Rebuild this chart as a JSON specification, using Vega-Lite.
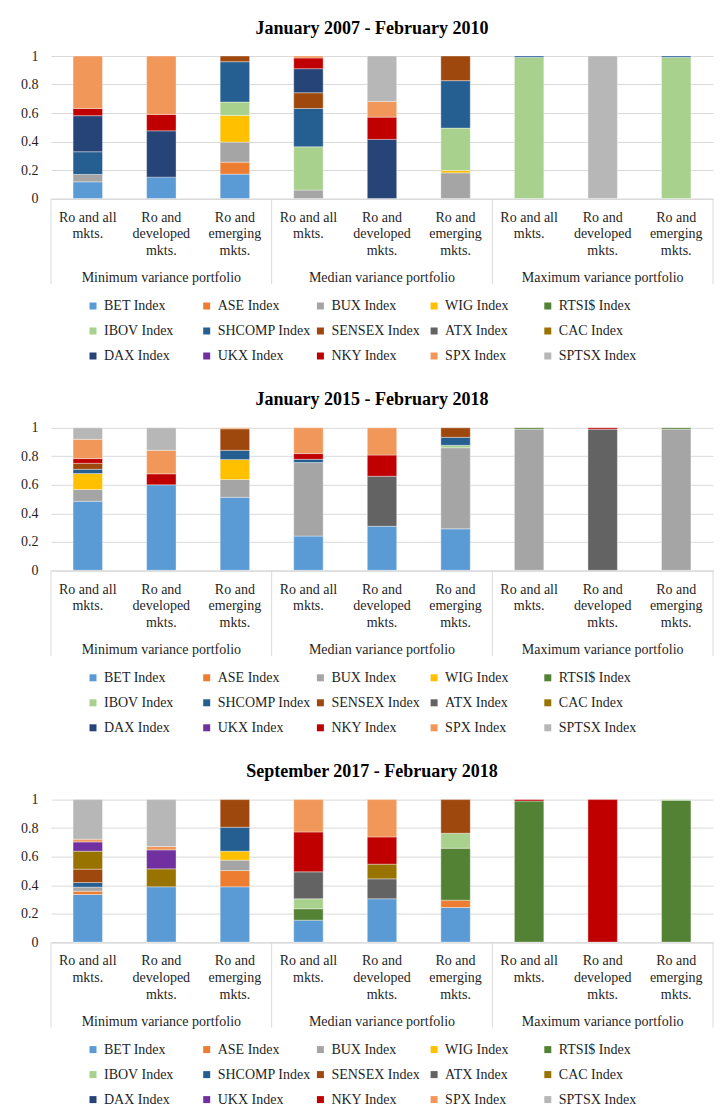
{
  "$schema": "https://vega.github.io/schema/vega-lite/v6.json",
  "background": "white",
  "padding": {"top": 19, "left": 20, "right": 5, "bottom": 5},
  "bounds": "flush",
  "spacing": 228.8,
  "config": {
    "view": {"stroke": null},
    "font": "Liberation Serif",
    "title": {"font": "Liberation Serif", "fontSize": 18, "fontWeight": "bold", "color": "#000000", "anchor": "middle", "frame": "group", "dx": -10, "offset": 11.5},
    "axis": {"labelFont": "Liberation Serif", "labelFontSize": 14, "labelColor": "#1f1f1f"},
    "axisY": {"grid": true, "gridColor": "#d9d9d9", "gridWidth": 1, "domain": false, "ticks": false, "labelOverlap": false, "labelFlush": false, "labelPadding": 13},
    "legend": {"labelFont": "Liberation Serif", "labelFontSize": 14, "labelColor": "#1f1f1f"}
  },
  "datasets": {
    "legendOrder": [
      {"index": "BET Index", "rank": 1}, {"index": "ASE Index", "rank": 2}, {"index": "BUX Index", "rank": 3},
      {"index": "WIG Index", "rank": 4}, {"index": "RTSI$ Index", "rank": 5}, {"index": "IBOV Index", "rank": 6},
      {"index": "SHCOMP Index", "rank": 7}, {"index": "SENSEX Index", "rank": 8}, {"index": "ATX Index", "rank": 9},
      {"index": "CAC Index", "rank": 10}, {"index": "DAX Index", "rank": 11}, {"index": "UKX Index", "rank": 12},
      {"index": "NKY Index", "rank": 13}, {"index": "SPX Index", "rank": 14}, {"index": "SPTSX Index", "rank": 15}
    ],
    "p1": [
      {"bar": "Minimum | Ro and all mkts.", "index": "BET Index", "weight": 0.117},
      {"bar": "Minimum | Ro and all mkts.", "index": "BUX Index", "weight": 0.052},
      {"bar": "Minimum | Ro and all mkts.", "index": "SHCOMP Index", "weight": 0.159},
      {"bar": "Minimum | Ro and all mkts.", "index": "DAX Index", "weight": 0.253},
      {"bar": "Minimum | Ro and all mkts.", "index": "NKY Index", "weight": 0.051},
      {"bar": "Minimum | Ro and all mkts.", "index": "SPX Index", "weight": 0.368},
      {"bar": "Minimum | Ro and developed mkts.", "index": "BET Index", "weight": 0.150},
      {"bar": "Minimum | Ro and developed mkts.", "index": "DAX Index", "weight": 0.325},
      {"bar": "Minimum | Ro and developed mkts.", "index": "NKY Index", "weight": 0.115},
      {"bar": "Minimum | Ro and developed mkts.", "index": "SPX Index", "weight": 0.410},
      {"bar": "Minimum | Ro and emerging mkts.", "index": "BET Index", "weight": 0.171},
      {"bar": "Minimum | Ro and emerging mkts.", "index": "ASE Index", "weight": 0.084},
      {"bar": "Minimum | Ro and emerging mkts.", "index": "BUX Index", "weight": 0.141},
      {"bar": "Minimum | Ro and emerging mkts.", "index": "WIG Index", "weight": 0.187},
      {"bar": "Minimum | Ro and emerging mkts.", "index": "IBOV Index", "weight": 0.094},
      {"bar": "Minimum | Ro and emerging mkts.", "index": "SHCOMP Index", "weight": 0.283},
      {"bar": "Minimum | Ro and emerging mkts.", "index": "SENSEX Index", "weight": 0.040},
      {"bar": "Median | Ro and all mkts.", "index": "BUX Index", "weight": 0.059},
      {"bar": "Median | Ro and all mkts.", "index": "IBOV Index", "weight": 0.304},
      {"bar": "Median | Ro and all mkts.", "index": "SHCOMP Index", "weight": 0.269},
      {"bar": "Median | Ro and all mkts.", "index": "SENSEX Index", "weight": 0.110},
      {"bar": "Median | Ro and all mkts.", "index": "DAX Index", "weight": 0.169},
      {"bar": "Median | Ro and all mkts.", "index": "NKY Index", "weight": 0.075},
      {"bar": "Median | Ro and all mkts.", "index": "SPX Index", "weight": 0.014},
      {"bar": "Median | Ro and developed mkts.", "index": "DAX Index", "weight": 0.415},
      {"bar": "Median | Ro and developed mkts.", "index": "NKY Index", "weight": 0.156},
      {"bar": "Median | Ro and developed mkts.", "index": "SPX Index", "weight": 0.110},
      {"bar": "Median | Ro and developed mkts.", "index": "SPTSX Index", "weight": 0.319},
      {"bar": "Median | Ro and emerging mkts.", "index": "BUX Index", "weight": 0.180},
      {"bar": "Median | Ro and emerging mkts.", "index": "WIG Index", "weight": 0.017},
      {"bar": "Median | Ro and emerging mkts.", "index": "IBOV Index", "weight": 0.297},
      {"bar": "Median | Ro and emerging mkts.", "index": "SHCOMP Index", "weight": 0.333},
      {"bar": "Median | Ro and emerging mkts.", "index": "SENSEX Index", "weight": 0.173},
      {"bar": "Maximum | Ro and all mkts.", "index": "IBOV Index", "weight": 0.990},
      {"bar": "Maximum | Ro and all mkts.", "index": "SHCOMP Index", "weight": 0.010},
      {"bar": "Maximum | Ro and developed mkts.", "index": "SPTSX Index", "weight": 1.000},
      {"bar": "Maximum | Ro and emerging mkts.", "index": "IBOV Index", "weight": 0.990},
      {"bar": "Maximum | Ro and emerging mkts.", "index": "SHCOMP Index", "weight": 0.010}
    ],
    "p2": [
      {"bar": "Minimum | Ro and all mkts.", "index": "BET Index", "weight": 0.484},
      {"bar": "Minimum | Ro and all mkts.", "index": "BUX Index", "weight": 0.083},
      {"bar": "Minimum | Ro and all mkts.", "index": "WIG Index", "weight": 0.112},
      {"bar": "Minimum | Ro and all mkts.", "index": "SHCOMP Index", "weight": 0.030},
      {"bar": "Minimum | Ro and all mkts.", "index": "SENSEX Index", "weight": 0.042},
      {"bar": "Minimum | Ro and all mkts.", "index": "NKY Index", "weight": 0.033},
      {"bar": "Minimum | Ro and all mkts.", "index": "SPX Index", "weight": 0.135},
      {"bar": "Minimum | Ro and all mkts.", "index": "SPTSX Index", "weight": 0.081},
      {"bar": "Minimum | Ro and developed mkts.", "index": "BET Index", "weight": 0.600},
      {"bar": "Minimum | Ro and developed mkts.", "index": "NKY Index", "weight": 0.077},
      {"bar": "Minimum | Ro and developed mkts.", "index": "SPX Index", "weight": 0.165},
      {"bar": "Minimum | Ro and developed mkts.", "index": "SPTSX Index", "weight": 0.158},
      {"bar": "Minimum | Ro and emerging mkts.", "index": "BET Index", "weight": 0.512},
      {"bar": "Minimum | Ro and emerging mkts.", "index": "BUX Index", "weight": 0.125},
      {"bar": "Minimum | Ro and emerging mkts.", "index": "WIG Index", "weight": 0.140},
      {"bar": "Minimum | Ro and emerging mkts.", "index": "SHCOMP Index", "weight": 0.065},
      {"bar": "Minimum | Ro and emerging mkts.", "index": "SENSEX Index", "weight": 0.151},
      {"bar": "Minimum | Ro and emerging mkts.", "index": "SPX Index", "weight": 0.007},
      {"bar": "Median | Ro and all mkts.", "index": "BET Index", "weight": 0.240},
      {"bar": "Median | Ro and all mkts.", "index": "BUX Index", "weight": 0.516},
      {"bar": "Median | Ro and all mkts.", "index": "SHCOMP Index", "weight": 0.023},
      {"bar": "Median | Ro and all mkts.", "index": "NKY Index", "weight": 0.040},
      {"bar": "Median | Ro and all mkts.", "index": "SPX Index", "weight": 0.181},
      {"bar": "Median | Ro and developed mkts.", "index": "BET Index", "weight": 0.309},
      {"bar": "Median | Ro and developed mkts.", "index": "ATX Index", "weight": 0.351},
      {"bar": "Median | Ro and developed mkts.", "index": "NKY Index", "weight": 0.149},
      {"bar": "Median | Ro and developed mkts.", "index": "SPX Index", "weight": 0.191},
      {"bar": "Median | Ro and emerging mkts.", "index": "BET Index", "weight": 0.291},
      {"bar": "Median | Ro and emerging mkts.", "index": "BUX Index", "weight": 0.569},
      {"bar": "Median | Ro and emerging mkts.", "index": "IBOV Index", "weight": 0.017},
      {"bar": "Median | Ro and emerging mkts.", "index": "SHCOMP Index", "weight": 0.056},
      {"bar": "Median | Ro and emerging mkts.", "index": "SENSEX Index", "weight": 0.067},
      {"bar": "Maximum | Ro and all mkts.", "index": "BUX Index", "weight": 0.990},
      {"bar": "Maximum | Ro and all mkts.", "index": "RTSI$ Index", "weight": 0.010},
      {"bar": "Maximum | Ro and developed mkts.", "index": "ATX Index", "weight": 0.990},
      {"bar": "Maximum | Ro and developed mkts.", "index": "NKY Index", "weight": 0.010},
      {"bar": "Maximum | Ro and emerging mkts.", "index": "BUX Index", "weight": 0.990},
      {"bar": "Maximum | Ro and emerging mkts.", "index": "RTSI$ Index", "weight": 0.010}
    ],
    "p3": [
      {"bar": "Minimum | Ro and all mkts.", "index": "BET Index", "weight": 0.334},
      {"bar": "Minimum | Ro and all mkts.", "index": "ASE Index", "weight": 0.023},
      {"bar": "Minimum | Ro and all mkts.", "index": "BUX Index", "weight": 0.029},
      {"bar": "Minimum | Ro and all mkts.", "index": "SHCOMP Index", "weight": 0.032},
      {"bar": "Minimum | Ro and all mkts.", "index": "SENSEX Index", "weight": 0.094},
      {"bar": "Minimum | Ro and all mkts.", "index": "CAC Index", "weight": 0.126},
      {"bar": "Minimum | Ro and all mkts.", "index": "UKX Index", "weight": 0.065},
      {"bar": "Minimum | Ro and all mkts.", "index": "SPX Index", "weight": 0.019},
      {"bar": "Minimum | Ro and all mkts.", "index": "SPTSX Index", "weight": 0.278},
      {"bar": "Minimum | Ro and developed mkts.", "index": "BET Index", "weight": 0.388},
      {"bar": "Minimum | Ro and developed mkts.", "index": "CAC Index", "weight": 0.126},
      {"bar": "Minimum | Ro and developed mkts.", "index": "UKX Index", "weight": 0.133},
      {"bar": "Minimum | Ro and developed mkts.", "index": "SPX Index", "weight": 0.024},
      {"bar": "Minimum | Ro and developed mkts.", "index": "SPTSX Index", "weight": 0.329},
      {"bar": "Minimum | Ro and emerging mkts.", "index": "BET Index", "weight": 0.388},
      {"bar": "Minimum | Ro and emerging mkts.", "index": "ASE Index", "weight": 0.114},
      {"bar": "Minimum | Ro and emerging mkts.", "index": "BUX Index", "weight": 0.073},
      {"bar": "Minimum | Ro and emerging mkts.", "index": "WIG Index", "weight": 0.063},
      {"bar": "Minimum | Ro and emerging mkts.", "index": "SHCOMP Index", "weight": 0.168},
      {"bar": "Minimum | Ro and emerging mkts.", "index": "SENSEX Index", "weight": 0.194},
      {"bar": "Median | Ro and all mkts.", "index": "BET Index", "weight": 0.154},
      {"bar": "Median | Ro and all mkts.", "index": "RTSI$ Index", "weight": 0.080},
      {"bar": "Median | Ro and all mkts.", "index": "IBOV Index", "weight": 0.070},
      {"bar": "Median | Ro and all mkts.", "index": "ATX Index", "weight": 0.189},
      {"bar": "Median | Ro and all mkts.", "index": "NKY Index", "weight": 0.280},
      {"bar": "Median | Ro and all mkts.", "index": "SPX Index", "weight": 0.227},
      {"bar": "Median | Ro and developed mkts.", "index": "BET Index", "weight": 0.304},
      {"bar": "Median | Ro and developed mkts.", "index": "ATX Index", "weight": 0.140},
      {"bar": "Median | Ro and developed mkts.", "index": "CAC Index", "weight": 0.103},
      {"bar": "Median | Ro and developed mkts.", "index": "NKY Index", "weight": 0.191},
      {"bar": "Median | Ro and developed mkts.", "index": "SPX Index", "weight": 0.262},
      {"bar": "Median | Ro and emerging mkts.", "index": "BET Index", "weight": 0.243},
      {"bar": "Median | Ro and emerging mkts.", "index": "ASE Index", "weight": 0.051},
      {"bar": "Median | Ro and emerging mkts.", "index": "RTSI$ Index", "weight": 0.365},
      {"bar": "Median | Ro and emerging mkts.", "index": "IBOV Index", "weight": 0.105},
      {"bar": "Median | Ro and emerging mkts.", "index": "SENSEX Index", "weight": 0.236},
      {"bar": "Maximum | Ro and all mkts.", "index": "RTSI$ Index", "weight": 0.990},
      {"bar": "Maximum | Ro and all mkts.", "index": "NKY Index", "weight": 0.010},
      {"bar": "Maximum | Ro and developed mkts.", "index": "NKY Index", "weight": 1.000},
      {"bar": "Maximum | Ro and emerging mkts.", "index": "RTSI$ Index", "weight": 0.995},
      {"bar": "Maximum | Ro and emerging mkts.", "index": "IBOV Index", "weight": 0.005}
    ],
    "groups": [
      {"bar": "Minimum | Ro and developed mkts.", "label": "Minimum variance portfolio"},
      {"bar": "Median | Ro and developed mkts.", "label": "Median variance portfolio"},
      {"bar": "Maximum | Ro and developed mkts.", "label": "Maximum variance portfolio"}
    ],
    "sepStart": [
      {"bar": "Minimum | Ro and all mkts."},
      {"bar": "Median | Ro and all mkts."},
      {"bar": "Maximum | Ro and all mkts."}
    ],
    "sepEnd": [
      {"bar": "Maximum | Ro and emerging mkts."}
    ]
  },
  "resolve": {"scale": {"color": "independent"}, "legend": {"color": "independent"}},
  "vconcat": [
    {
      "width": 662, "height": 142.5,
      "title": {"text": "January 2007 - February 2010"},
      "resolve": {"axis": {"x": "independent", "y": "independent"}},
      "layer": [
        {
          "data": {"name": "p1"},
          "transform": [{"lookup": "index", "from": {"data": {"name": "legendOrder"}, "key": "index", "fields": ["rank"]}}],
          "mark": {"type": "bar", "stroke": "#ffffff", "strokeWidth": 0.6, "strokeOpacity": 0.6},
          "encoding": {
            "x": {"field": "bar", "type": "nominal", "title": null,
              "scale": {"domain": ["Minimum | Ro and all mkts.", "Minimum | Ro and developed mkts.", "Minimum | Ro and emerging mkts.", "Median | Ro and all mkts.", "Median | Ro and developed mkts.", "Median | Ro and emerging mkts.", "Maximum | Ro and all mkts.", "Maximum | Ro and developed mkts.", "Maximum | Ro and emerging mkts."], "paddingInner": 0.6, "paddingOuter": 0.3},
              "axis": {"labelAngle": 0, "ticks": false, "grid": false, "domainColor": "#d9d9d9", "labelPadding": 11.7, "labelLineHeight": 16.7, "labelBaseline": "top", "labelOverlap": false, "labelLimit": 0,
                "labelExpr": "indexof(datum.value, 'all mkts') >= 0 ? ['Ro and all', 'mkts.'] : indexof(datum.value, 'developed') >= 0 ? ['Ro and', 'developed', 'mkts.'] : ['Ro and', 'emerging', 'mkts.']"}},
            "y": {"field": "weight", "type": "quantitative", "stack": "zero", "title": null,
              "scale": {"domain": [0, 1], "nice": false},
              "axis": {"values": [0, 0.2, 0.4, 0.6, 0.8, 1], "format": "~g", "labelOverlap": false}},
            "order": {"field": "rank", "type": "quantitative", "sort": "ascending"},
            "color": {"field": "index", "type": "nominal",
              "scale": {"domain": ["BET Index", "ASE Index", "BUX Index", "WIG Index", "RTSI$ Index", "IBOV Index", "SHCOMP Index", "SENSEX Index", "ATX Index", "CAC Index", "DAX Index", "UKX Index", "NKY Index", "SPX Index", "SPTSX Index"],
                "range": ["#5B9BD5", "#ED7D31", "#A5A5A5", "#FFC000", "#548235", "#A9D18E", "#255E91", "#9E480E", "#636363", "#997300", "#264478", "#7030A0", "#C00000", "#F1975A", "#B7B7B7"]},
              "legend": {"title": null, "orient": "none", "legendX": 35, "legendY": 243, "direction": "horizontal", "columns": 5, "gridAlign": "all", "columnPadding": 2.7, "rowPadding": 11, "symbolType": "square", "symbolSize": 49, "symbolStrokeWidth": 0, "labelOffset": 4, "padding": 0}}
          }
        },
        {
          "data": {"name": "sepStart"},
          "mark": {"type": "rule", "color": "#d9d9d9", "strokeWidth": 1},
          "encoding": {"x": {"field": "bar", "type": "nominal", "bandPosition": -0.75, "axis": null}, "y": {"datum": 0, "type": "quantitative", "axis": null}, "y2": {"datum": -0.6}}
        },
        {
          "data": {"name": "sepEnd"},
          "mark": {"type": "rule", "color": "#d9d9d9", "strokeWidth": 1},
          "encoding": {"x": {"field": "bar", "type": "nominal", "bandPosition": 1.75, "axis": null}, "y": {"datum": 0, "type": "quantitative", "axis": null}, "y2": {"datum": -0.6}}
        },
        {
          "data": {"name": "groups"},
          "mark": {"type": "text", "font": "Liberation Serif", "fontSize": 14, "color": "#1f1f1f", "baseline": "middle"},
          "encoding": {"x": {"field": "bar", "type": "nominal", "axis": null}, "y": {"datum": -0.559, "type": "quantitative", "axis": null}, "text": {"field": "label"}}
        }
      ]
    },
    {
      "width": 662, "height": 142.5,
      "title": {"text": "January 2015 - February 2018"},
      "resolve": {"axis": {"x": "independent", "y": "independent"}},
      "layer": [
        {
          "data": {"name": "p2"},
          "transform": [{"lookup": "index", "from": {"data": {"name": "legendOrder"}, "key": "index", "fields": ["rank"]}}],
          "mark": {"type": "bar", "stroke": "#ffffff", "strokeWidth": 0.6, "strokeOpacity": 0.6},
          "encoding": {
            "x": {"field": "bar", "type": "nominal", "title": null,
              "scale": {"domain": ["Minimum | Ro and all mkts.", "Minimum | Ro and developed mkts.", "Minimum | Ro and emerging mkts.", "Median | Ro and all mkts.", "Median | Ro and developed mkts.", "Median | Ro and emerging mkts.", "Maximum | Ro and all mkts.", "Maximum | Ro and developed mkts.", "Maximum | Ro and emerging mkts."], "paddingInner": 0.6, "paddingOuter": 0.3},
              "axis": {"labelAngle": 0, "ticks": false, "grid": false, "domainColor": "#d9d9d9", "labelPadding": 11.7, "labelLineHeight": 16.7, "labelBaseline": "top", "labelOverlap": false, "labelLimit": 0,
                "labelExpr": "indexof(datum.value, 'all mkts') >= 0 ? ['Ro and all', 'mkts.'] : indexof(datum.value, 'developed') >= 0 ? ['Ro and', 'developed', 'mkts.'] : ['Ro and', 'emerging', 'mkts.']"}},
            "y": {"field": "weight", "type": "quantitative", "stack": "zero", "title": null,
              "scale": {"domain": [0, 1], "nice": false},
              "axis": {"values": [0, 0.2, 0.4, 0.6, 0.8, 1], "format": "~g", "labelOverlap": false}},
            "order": {"field": "rank", "type": "quantitative", "sort": "ascending"},
            "color": {"field": "index", "type": "nominal",
              "scale": {"domain": ["BET Index", "ASE Index", "BUX Index", "WIG Index", "RTSI$ Index", "IBOV Index", "SHCOMP Index", "SENSEX Index", "ATX Index", "CAC Index", "DAX Index", "UKX Index", "NKY Index", "SPX Index", "SPTSX Index"],
                "range": ["#5B9BD5", "#ED7D31", "#A5A5A5", "#FFC000", "#548235", "#A9D18E", "#255E91", "#9E480E", "#636363", "#997300", "#264478", "#7030A0", "#C00000", "#F1975A", "#B7B7B7"]},
              "legend": {"title": null, "orient": "none", "legendX": 35, "legendY": 243, "direction": "horizontal", "columns": 5, "gridAlign": "all", "columnPadding": 2.7, "rowPadding": 11, "symbolType": "square", "symbolSize": 49, "symbolStrokeWidth": 0, "labelOffset": 4, "padding": 0}}
          }
        },
        {
          "data": {"name": "sepStart"},
          "mark": {"type": "rule", "color": "#d9d9d9", "strokeWidth": 1},
          "encoding": {"x": {"field": "bar", "type": "nominal", "bandPosition": -0.75, "axis": null}, "y": {"datum": 0, "type": "quantitative", "axis": null}, "y2": {"datum": -0.6}}
        },
        {
          "data": {"name": "sepEnd"},
          "mark": {"type": "rule", "color": "#d9d9d9", "strokeWidth": 1},
          "encoding": {"x": {"field": "bar", "type": "nominal", "bandPosition": 1.75, "axis": null}, "y": {"datum": 0, "type": "quantitative", "axis": null}, "y2": {"datum": -0.6}}
        },
        {
          "data": {"name": "groups"},
          "mark": {"type": "text", "font": "Liberation Serif", "fontSize": 14, "color": "#1f1f1f", "baseline": "middle"},
          "encoding": {"x": {"field": "bar", "type": "nominal", "axis": null}, "y": {"datum": -0.559, "type": "quantitative", "axis": null}, "text": {"field": "label"}}
        }
      ]
    },
    {
      "width": 662, "height": 142.5,
      "title": {"text": "September 2017 - February 2018"},
      "resolve": {"axis": {"x": "independent", "y": "independent"}},
      "layer": [
        {
          "data": {"name": "p3"},
          "transform": [{"lookup": "index", "from": {"data": {"name": "legendOrder"}, "key": "index", "fields": ["rank"]}}],
          "mark": {"type": "bar", "stroke": "#ffffff", "strokeWidth": 0.6, "strokeOpacity": 0.6},
          "encoding": {
            "x": {"field": "bar", "type": "nominal", "title": null,
              "scale": {"domain": ["Minimum | Ro and all mkts.", "Minimum | Ro and developed mkts.", "Minimum | Ro and emerging mkts.", "Median | Ro and all mkts.", "Median | Ro and developed mkts.", "Median | Ro and emerging mkts.", "Maximum | Ro and all mkts.", "Maximum | Ro and developed mkts.", "Maximum | Ro and emerging mkts."], "paddingInner": 0.6, "paddingOuter": 0.3},
              "axis": {"labelAngle": 0, "ticks": false, "grid": false, "domainColor": "#d9d9d9", "labelPadding": 11.7, "labelLineHeight": 16.7, "labelBaseline": "top", "labelOverlap": false, "labelLimit": 0,
                "labelExpr": "indexof(datum.value, 'all mkts') >= 0 ? ['Ro and all', 'mkts.'] : indexof(datum.value, 'developed') >= 0 ? ['Ro and', 'developed', 'mkts.'] : ['Ro and', 'emerging', 'mkts.']"}},
            "y": {"field": "weight", "type": "quantitative", "stack": "zero", "title": null,
              "scale": {"domain": [0, 1], "nice": false},
              "axis": {"values": [0, 0.2, 0.4, 0.6, 0.8, 1], "format": "~g", "labelOverlap": false}},
            "order": {"field": "rank", "type": "quantitative", "sort": "ascending"},
            "color": {"field": "index", "type": "nominal",
              "scale": {"domain": ["BET Index", "ASE Index", "BUX Index", "WIG Index", "RTSI$ Index", "IBOV Index", "SHCOMP Index", "SENSEX Index", "ATX Index", "CAC Index", "DAX Index", "UKX Index", "NKY Index", "SPX Index", "SPTSX Index"],
                "range": ["#5B9BD5", "#ED7D31", "#A5A5A5", "#FFC000", "#548235", "#A9D18E", "#255E91", "#9E480E", "#636363", "#997300", "#264478", "#7030A0", "#C00000", "#F1975A", "#B7B7B7"]},
              "legend": {"title": null, "orient": "none", "legendX": 35, "legendY": 243, "direction": "horizontal", "columns": 5, "gridAlign": "all", "columnPadding": 2.7, "rowPadding": 11, "symbolType": "square", "symbolSize": 49, "symbolStrokeWidth": 0, "labelOffset": 4, "padding": 0}}
          }
        },
        {
          "data": {"name": "sepStart"},
          "mark": {"type": "rule", "color": "#d9d9d9", "strokeWidth": 1},
          "encoding": {"x": {"field": "bar", "type": "nominal", "bandPosition": -0.75, "axis": null}, "y": {"datum": 0, "type": "quantitative", "axis": null}, "y2": {"datum": -0.6}}
        },
        {
          "data": {"name": "sepEnd"},
          "mark": {"type": "rule", "color": "#d9d9d9", "strokeWidth": 1},
          "encoding": {"x": {"field": "bar", "type": "nominal", "bandPosition": 1.75, "axis": null}, "y": {"datum": 0, "type": "quantitative", "axis": null}, "y2": {"datum": -0.6}}
        },
        {
          "data": {"name": "groups"},
          "mark": {"type": "text", "font": "Liberation Serif", "fontSize": 14, "color": "#1f1f1f", "baseline": "middle"},
          "encoding": {"x": {"field": "bar", "type": "nominal", "axis": null}, "y": {"datum": -0.559, "type": "quantitative", "axis": null}, "text": {"field": "label"}}
        }
      ]
    }
  ]
}
